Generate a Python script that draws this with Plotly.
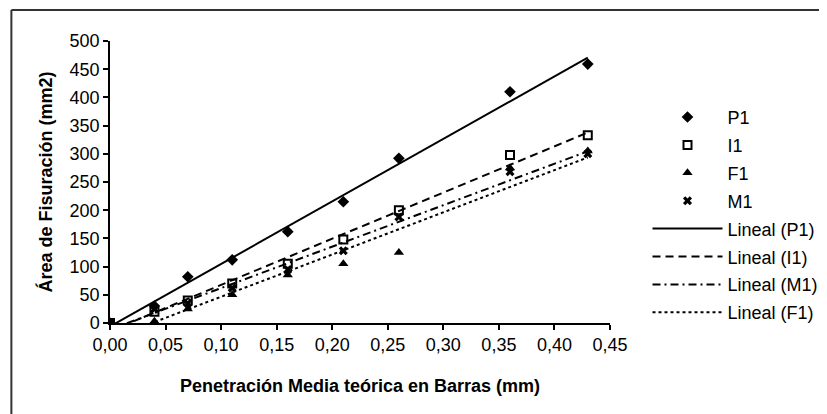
import numpy as np
import plotly.graph_objects as go

x_vals = [0.00, 0.04, 0.07, 0.11, 0.16, 0.21, 0.26, 0.36, 0.43]
p1 = [0, 30, 82, 112, 162, 215, 292, 410, 459]
i1 = [0, 20, 40, 70, 105, 148, 200, 298, 333]
f1 = [0, 3, 25, 50, 85, 105, 125, 275, 305]
m1 = [0, 25, 35, 62, 95, 128, 188, 268, 300]

x_ticks = [0.00, 0.05, 0.10, 0.15, 0.20, 0.25, 0.30, 0.35, 0.40, 0.45]
y_ticks = [0, 50, 100, 150, 200, 250, 300, 350, 400, 450, 500]

FONT = "Liberation Sans, Arial, sans-serif"
fig = go.Figure()

markers = [
    ("P1", p1, dict(symbol="diamond", size=9, color="black")),
    ("I1", i1, dict(symbol="square", size=8, color="white", line=dict(color="black", width=2))),
    ("F1", f1, dict(symbol="triangle-up", size=9, color="black")),
    ("M1", m1, dict(symbol="x", size=8, color="black", line=dict(width=0))),
]
for name, ys, mk in markers:
    fig.add_trace(go.Scatter(x=x_vals, y=ys, mode="markers", name=name, marker=mk,
                             legendgroup=name))

x_arr = np.array(x_vals)
def trend(ys):
    a, b = np.polyfit(x_arr, np.array(ys, dtype=float), 1)
    xs = np.array([x_arr.min(), x_arr.max()])
    return xs, a * xs + b

lines = [
    ("Lineal (P1)", p1, "solid"),
    ("Lineal (I1)", i1, "8px,5px"),
    ("Lineal (M1)", m1, "8px,4px,2px,4px"),
    ("Lineal (F1)", f1, "3px,3px"),
]
for name, ys, dash in lines:
    xs, yl = trend(ys)
    fig.add_trace(go.Scatter(x=xs, y=yl, mode="lines", name=name, legendgroup=name,
                             line=dict(color="black", width=2, dash=dash)))

# page is offset by the 8px body margin
L, T = 102, 33
pw, ph = 507, 282
W, H = 827, 414
R, B = W - L - pw, H - T - ph
bx = (2 - L) / pw
by = 1 + (T - 2) / ph

fig.update_layout(
    width=W, height=H,
    margin=dict(l=L, r=R, t=T, b=B),
    plot_bgcolor="white", paper_bgcolor="white",
    separators=",.",
    font=dict(family=FONT, size=18, color="black"),
    showlegend=True,
    legend=dict(x=1.075, y=0.795, xanchor="left", yanchor="top",
                font=dict(size=18), tracegroupgap=1.5, itemwidth=70,
                bgcolor="rgba(0,0,0,0)"),
    xaxis=dict(range=[0, 0.45], tickvals=x_ticks, tickformat=".2f",
               showgrid=False, zeroline=False, showline=True, linecolor="black", linewidth=1.5,
               ticks="outside", ticklen=5, tickcolor="black", tickwidth=1.5,
               title=dict(text="<b>Penetración Media teórica en Barras (mm)</b>", standoff=25,
                          font=dict(size=18))),
    yaxis=dict(range=[0, 500], tickvals=y_ticks,
               showgrid=False, zeroline=False, showline=True, linecolor="black", linewidth=1.5,
               ticks="outside", ticklen=5, tickcolor="black", tickwidth=1.5,
               title=dict(text="<b>Área de Fisuración (mm2)</b>", standoff=12,
                          font=dict(size=18))),
    shapes=[
        dict(type="line", xref="paper", yref="paper", x0=bx, x1=2, y0=by, y1=by,
             line=dict(color="#333333", width=2)),
        dict(type="line", xref="paper", yref="paper", x0=bx, x1=bx, y0=-1, y1=by,
             line=dict(color="#333333", width=2)),
    ],
)

fig.write_html("out.html")
